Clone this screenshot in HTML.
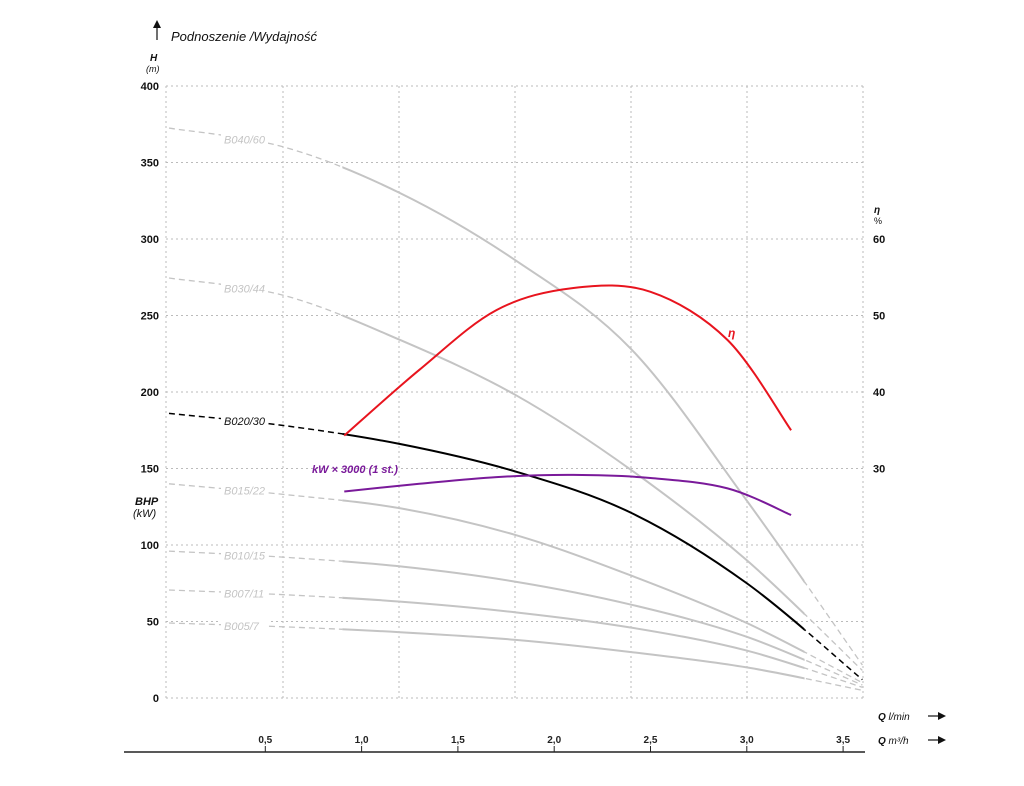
<!DOCTYPE html>
<html><head><meta charset="utf-8"><style>
body{margin:0;background:#fff;}
svg{display:block;font-family:"Liberation Sans",sans-serif;}
</style></head><body>
<svg id="chart" width="1024" height="786" viewBox="0 0 1024 786" xmlns="http://www.w3.org/2000/svg">
<g id="grid"></g>
<g id="curves"></g>
<g id="labels"></g>
</svg>
<script>
const qVals = [0, 0.6, 1.2, 1.8, 2.4, 3.0, 3.6];
const headB040 = [372.5, 360, 330, 286, 228, 129, 21.6];
const headB030 = [274.5, 263, 234, 198, 149, 90, 18];
const headB020 = [186, 178, 166, 148, 121, 75, 12];
const headB015 = [140, 133, 124, 106.5, 80, 49, 10];
const headB010 = [96, 92, 86, 76, 61, 40, 8.5];
const headB007 = [70.6, 67.5, 63, 56, 46, 31, 7];
const headB005 = [49, 46.5, 43, 38, 30, 20, 5];
const pumpNames = ["B040/60","B030/44","B020/30","B015/22","B010/15","B007/11","B005/7"];
const effQ = [0.91, 1.3, 1.7, 2.1, 2.5, 2.9, 3.23];
const effVals = [34.3, 42.9, 50.7, 53.6, 53.1, 46.8, 35];
const kwQ = [0.91, 1.3, 1.7, 2.1, 2.5, 2.9, 3.23];
const kwVals = [135, 140, 144.4, 145.8, 143.8, 137, 119.6];
const hTicks = [0,50,100,150,200,250,300,350,400];
const effTicks = [30,40,50,60];
const qTicks = [0.5,1.0,1.5,2.0,2.5,3.0,3.5];
const qTickLabels = ["0,5","1,0","1,5","2,0","2,5","3,0","3,5"];

const NS="http://www.w3.org/2000/svg";
const X=q=>169+q*192.6;
const Y=h=>698-h*1.53;
const YE=e=>698-e*7.65;
function mk(tag,attrs,parent,text){const el=document.createElementNS(NS,tag);for(const k in attrs)el.setAttribute(k,attrs[k]);if(text!==undefined)el.textContent=text;parent.appendChild(el);return el;}
function smooth(pts){let d=`M${pts[0][0]},${pts[0][1]}`;for(let i=0;i<pts.length-1;i++){const p0=pts[i-1]||pts[i],p1=pts[i],p2=pts[i+1],p3=pts[i+2]||p2;d+=` C${p1[0]+(p2[0]-p0[0])/6},${p1[1]+(p2[1]-p0[1])/6} ${p2[0]-(p3[0]-p1[0])/6},${p2[1]-(p3[1]-p1[1])/6} ${p2[0]},${p2[1]}`;}return d;}
const grid=document.getElementById('grid'),curves=document.getElementById('curves'),labels=document.getElementById('labels');

hTicks.forEach(h=>{
  const l=mk('line',{x1:166,x2:863,y1:Y(h),y2:Y(h),stroke:'#bbb','stroke-width':1,'stroke-dasharray':'2,3'},grid);
  
  const t=mk('text',{x:159,y:Y(h)+4,'text-anchor':'end','font-size':11,'font-weight':'bold',fill:'#111'},labels,String(h));
  
});
[166,283,399,515,631,747,863].forEach(x=>{
  const l=mk('line',{x1:x,x2:x,y1:86,y2:698,stroke:'#bbb','stroke-width':1,'stroke-dasharray':'2,3'},grid);
  
});
effTicks.forEach(e=>{
  const t=mk('text',{x:873,y:YE(e)+4,'font-size':11,'font-weight':'bold',fill:'#111'},labels,String(e));
  
});
const ax=mk('line',{x1:124,x2:865,y1:752,y2:752,stroke:'#222','stroke-width':1.5},grid);

qTicks.forEach((q,i)=>{
  const tk=mk('line',{x1:X(q),x2:X(q),y1:746,y2:752,stroke:'#222','stroke-width':1},grid);
  
  const t=mk('text',{x:X(q),y:743,'text-anchor':'middle','font-size':10,'font-weight':'bold',fill:'#222'},labels,qTickLabels[i]);
  
});

const heads=[headB040,headB030,headB020,headB015,headB010,headB007,headB005];
heads.forEach((hs,i)=>{
  const black=i===2, col=black?'#000':'#c4c4c4';
  const d=smooth(qVals.map((q,j)=>[X(q),Y(hs[j])]));
  const id='clip'+i;
  const cp=mk('clipPath',{id:id+'a'},curves);mk('rect',{x:166,y:0,width:X(0.9)-166,height:786},cp);
  const cs=mk('clipPath',{id:id+'b'},curves);mk('rect',{x:X(0.9),y:0,width:X(3.3)-X(0.9),height:786},cs);
  const ce=mk('clipPath',{id:id+'c'},curves);mk('rect',{x:X(3.3),y:0,width:200,height:786},ce);
  const p1=mk('path',{d,fill:'none',stroke:col,'stroke-width':black?1.5:1.3,'stroke-dasharray':'6,4','clip-path':`url(#${id}a)`},curves);
  
  const p2=mk('path',{d,fill:'none',stroke:col,'stroke-width':2,'clip-path':`url(#${id}b)`},curves);
  
  const p3=mk('path',{d,fill:'none',stroke:col,'stroke-width':black?1.5:1.3,'stroke-dasharray':'6,4','clip-path':`url(#${id}c)`},curves);
  
  const ly=Y(hs[0]-(hs[0]-hs[1])*0.55);
  const bg=mk('rect',{x:221,y:ly-7,width:47,height:15,fill:'#fff'},curves);
  
  const t=mk('text',{x:224,y:ly+5,'font-size':11,'font-style':'italic',fill:black?'#111':'#c4c4c4'},labels,pumpNames[i]);
  
});
const ep=mk('path',{d:smooth(effQ.map((q,j)=>[X(q),YE(effVals[j])])),fill:'none',stroke:'#e8141e','stroke-width':2},curves);

const kp=mk('path',{d:smooth(kwQ.map((q,j)=>[X(q),Y(kwVals[j])])),fill:'none',stroke:'#7a1a9a','stroke-width':2},curves);

</script>
<svg style="position:absolute;left:0;top:0" width="1024" height="786">
<g font-family="Liberation Sans, sans-serif">
<line x1="157" y1="40" x2="157" y2="26" stroke="#111" stroke-width="1.2"/>
<polygon points="153,28 157,20 161,28" fill="#111"/>
<text x="171" y="41" font-size="13" font-style="italic" fill="#111">Podnoszenie /Wydajność</text>
<text x="150" y="61" font-size="10" font-weight="bold" font-style="italic" fill="#111">H</text>
<text x="146" y="72" font-size="9" font-style="italic" fill="#111">(m)</text>
<text x="135" y="505" font-size="11" font-weight="bold" font-style="italic" fill="#111">BHP</text>
<text x="133" y="517" font-size="11" font-style="italic" fill="#111">(kW)</text>
<text x="874" y="213" font-size="10" font-weight="bold" font-style="italic" fill="#111">η</text>
<text x="874" y="224" font-size="9" fill="#111">%</text>
<text x="728" y="337" font-size="12" font-weight="bold" font-style="italic" fill="#e8141e">η</text>
<text x="312" y="473" font-size="11" font-weight="bold" font-style="italic" fill="#7a1a9a">kW × 3000 (1 st.)</text>
<text x="878" y="720" font-size="10" font-style="italic" fill="#111"><tspan font-weight="bold">Q</tspan> l/min</text>
<text x="878" y="744" font-size="10" font-style="italic" fill="#111"><tspan font-weight="bold">Q</tspan> m³/h</text>
<line x1="928" y1="716" x2="940" y2="716" stroke="#111" stroke-width="1.2"/><polygon points="938,712 946,716 938,720" fill="#111"/>
<line x1="928" y1="740" x2="940" y2="740" stroke="#111" stroke-width="1.2"/><polygon points="938,736 946,740 938,744" fill="#111"/>
</g>
</svg>
</body></html>
